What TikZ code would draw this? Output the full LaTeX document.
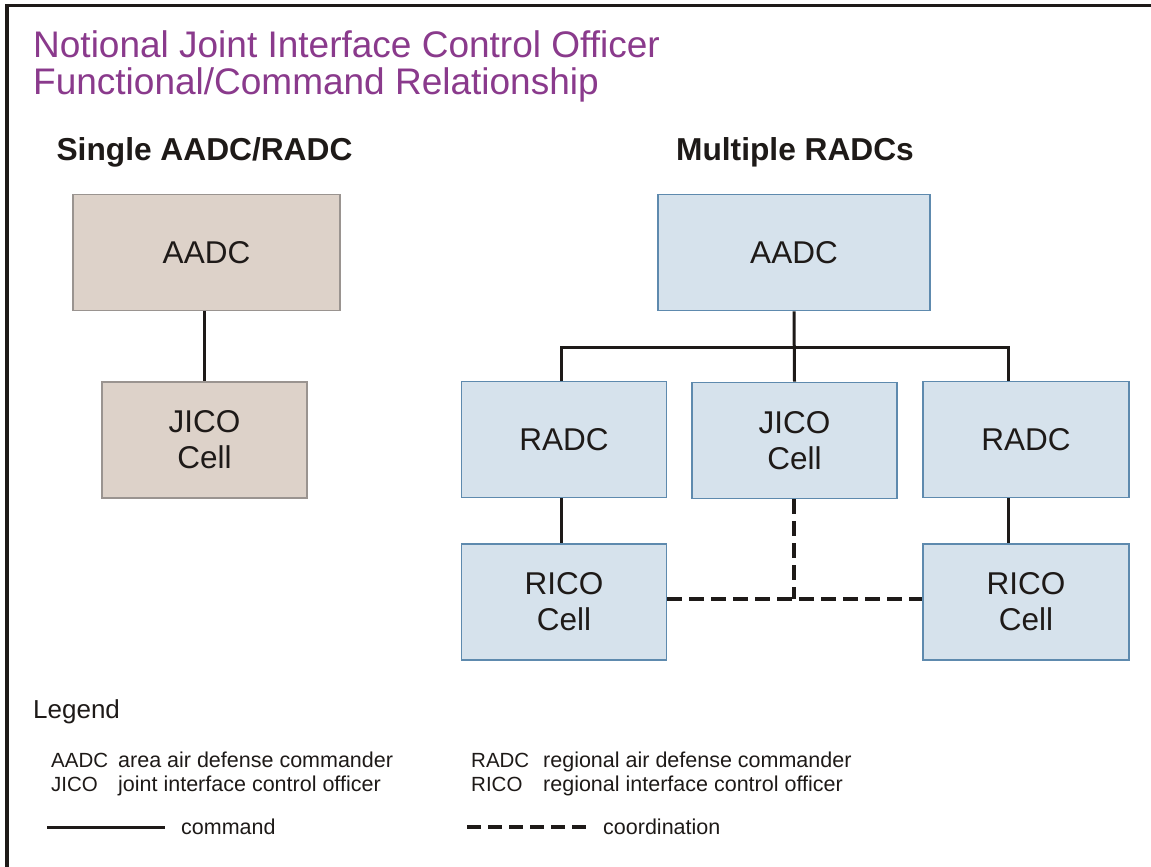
\documentclass[tikz,border=0pt]{standalone}
\usepackage{fontspec}
\setmainfont{Liberation Sans}
\definecolor{titlepurple}{HTML}{8A3A8C}
\definecolor{tanfill}{HTML}{DDD2C9}
\definecolor{tanedge}{HTML}{9A9490}
\definecolor{bluefill}{HTML}{D6E2EC}
\definecolor{blueedge}{HTML}{5E8AAE}
\definecolor{ink}{HTML}{1E1A18}
\tikzset{
  tanbox/.style={draw=tanedge, fill=tanfill, line width=1.4bp, minimum width=#1, minimum height=116bp, inner sep=0pt, align=center, font=\fontsize{31.5bp}{36bp}\selectfont, text=ink},
  bluebox/.style={draw=blueedge, fill=bluefill, line width=1.6bp, minimum width=#1, minimum height=116bp, inner sep=0pt, align=center, font=\fontsize{31.5bp}{36bp}\selectfont, text=ink},
  cmdline/.style={draw=ink, line width=3bp},
  coordline/.style={draw=ink, line width=3.2bp, dash pattern=on 15bp off 7bp},
  titletext/.style={anchor=base west, inner sep=0pt, text=titlepurple, font=\fontsize{37bp}{37bp}\selectfont},
  headtext/.style={anchor=base, inner sep=0pt, text=ink, font=\bfseries\fontsize{31.7bp}{31.7bp}\selectfont},
  legtext/.style={anchor=base west, inner sep=0pt, text=ink, font=\fontsize{21.5bp}{24bp}\selectfont},
  abbrtext/.style={anchor=base west, inner sep=0pt, text=ink, font=\fontsize{20.5bp}{24bp}\selectfont},
}
\begin{document}
\begin{tikzpicture}[x=1bp, y=-1bp]
\useasboundingbox (0,0) rectangle (1151,867);
\fill[white] (0,0) rectangle (1151,867);
% frame
\draw[ink, line width=3.4bp] (7,867) -- (7,5.5) -- (1151,5.5);
% title
\node[titletext] (t1) at (33,57) {Notional Joint Interface Control Officer};
\node[titletext] (t2) at (33,94) {Functional/Command Relationship};
% headings
\node[headtext] (h1) at (204.5,160) {Single AADC/RADC};
\node[headtext] (h2) at (795,160) {Multiple RADCs};
% left column
\node[tanbox=267bp] (laadc) at (206.5,252.5) {AADC};
\node[tanbox=205bp] (ljico) at (204.5,440) {JICO\\Cell};
\draw[cmdline] (laadc.south -| ljico.north) -- (ljico.north);
% right column
\node[bluebox=272bp] (raadc) at (794,252.5) {AADC};
\node[bluebox=205bp] (radc1) at (564,439.5) {RADC};
\node[bluebox=205bp] (rjico) at (794.5,440.5) {JICO\\Cell};
\node[bluebox=206bp] (radc2) at (1026,439.5) {RADC};
\node[bluebox=205bp] (rico1) at (564,602) {RICO\\Cell};
\node[bluebox=206bp] (rico2) at (1026,602) {RICO\\Cell};
\coordinate (bar) at (794,347);
\draw[cmdline] (raadc.south) -- (rjico.north);
\draw[cmdline] (radc1.north -| 561,0) |- (bar) -| (radc2.north -| 1008,0);
\draw[cmdline] (radc1.south -| 561,0) -- (rico1.north -| 561,0);
\draw[cmdline] (radc2.south -| 1008,0) -- (rico2.north -| 1008,0);
\coordinate (cj) at (794,599);
\draw[coordline] (rjico.south -| cj) -- (cj);
\draw[coordline] (rico1.east |- cj) -- (rico2.west |- cj);
% legend
\node[anchor=base west, inner sep=0pt, text=ink, font=\fontsize{26bp}{26bp}\selectfont] (leg) at (33,718) {Legend};
\node[abbrtext] (a1) at (51,767) {AADC};
\node[legtext] (a2) at (118,767) {area air defense commander};
\node[abbrtext] (j1) at (51,791) {JICO};
\node[legtext] (j2) at (118,791) {joint interface control officer};
\node[abbrtext] (r1) at (471,767) {RADC};
\node[legtext] (r2) at (543,767) {regional air defense commander};
\node[abbrtext] (c1) at (471,791) {RICO};
\node[legtext] (c2) at (543,791) {regional interface control officer};
\node[legtext] (cmd) at (181,834) {command};
\node[legtext] (crd) at (603,834) {coordination};
\coordinate (ls) at (47,827);
\coordinate (ds) at (467,827);
\draw[cmdline, shorten >=16bp] (ls) -- (cmd.west |- ls);
\draw[coordline, dash pattern=on 14bp off 7bp, shorten >=16bp] (ds) -- (crd.west |- ds);
\end{tikzpicture}
\end{document}
